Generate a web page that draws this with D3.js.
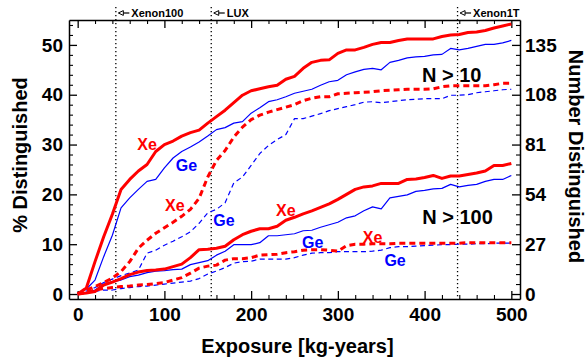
<!DOCTYPE html>
<html>
<head>
<meta charset="utf-8">
<script src="https://cdn.jsdelivr.net/npm/d3@7"></script>
<style>
  html, body { margin: 0; padding: 0; background: #fff; }
  svg { display: block; }
  text { font-family: "Liberation Sans", Arial, Helvetica, sans-serif; font-weight: bold; }
</style>
</head>
<body>
<svg id="chart" width="587" height="360"></svg>
<script>
// ---------------- data ----------------
const exposure = [0,10,20,30,40,50,60,70,80,90,100,110,120,130,140,150,160,170,180,190,200,
  210,220,230,240,250,260,270,280,290,300,310,320,330,340,350,360,370,380,390,400,
  410,420,430,440,450,460,470,480,490,500];

// N > 10, solid
const xeN10 = [0,1.2,6.5,11.5,16, 21,23,24.7,26,28.6, 30,30.7,31.7,32.4,32.9, 34.3,35.6,36.9,38.4,39.9,
  40.8,41.2,41.6,41.9,43.1, 43.7,45.3,46.5,46.9,47, 48.3,49,49,49.5,50.1, 50.5,50.5,50.9,51.2,51.2,
  51.2,51.2,51.7,52,52.1, 52.5,52.6,52.9,53.4,53.8, 54.2];
const geN10 = [0,1,2.8,7.5,11.8, 17.3,19.3,21,22.6,23, 25.3,27.3,28.6,29.5,30.5, 31.7,33,33.4,34.3,34.6,
  36.3,37.4,38.6,39,39.6, 40.3,40.7,41.1,41.9,42.6, 42.9,44,44.6,45.1,45.3, 45,46.5,46.9,47.4,47.6,
  47.7,48,48.1,49.3,49, 49.3,49.7,50.1,50.1,50.4, 50.9];
// N > 10, dashed
const xeN10d = [0,0.8,1.5,2.3,3.2, 4.5,6.5,9.2,10.8,12.2, 13.3,14.4,15.6,17,19.2, 23.5,26.8,28.8,31.5,33.5,
  35,35.9,36.5,37,37.5, 38,38.8,39.3,39.6,39.6, 40.2,40.3,40.4,40.5,40.6, 40.8,40.9,41,41.1,41.1,
  41.1,41.2,41.6,41.8,41.8, 41.8,41.8,41.8,42,42.3, 42.3];
const geN10d = [0,0.6,1.3,2.3,3, 3.7,4.2,4.8,8.2,8.8, 9.8,10.6,11.5,12.5,14.2, 16.3,17,18.3,22.3,23.5,
  25.8,28.2,29.8,31,32, 35.2,35.2,35.7,36.2,36.8, 37.2,37.6,38,38.5,38.6, 38.4,38.6,38.8,39,39.1,
  39.2,39.2,39.2,39.9,39.9, 40,40.4,40.6,40.8,41, 41.1];
// N > 100, solid
const xeN100 = [0,0.2,0.5,1.8,2.4, 3.1,3.9,4.4,4.7,4.8, 5,5.5,6,7.3,8.9, 9,9.2,9.6,10.9,11.9,
  12.6,13.1,13.1,13.6,14.8, 15.4,16.1,16.7,17.4,18.1, 19,20,21,21.5,21.7, 22.2,22.2,22.2,23,23.1,
  23.4,23.8,23.2,23.7,23.7, 24,24.3,24.7,25.8,25.8, 26.2];
const geN100 = [0,0.3,0.8,2,2.5, 2.8,3.5,3.8,4.3,4.6, 4.7,4.9,5,5.9,6.3, 6.7,7.8,8.6,9.9,9.9,
  9.9,10.3,11.7,11.7,11.9, 12.1,12.7,12.8,13.4,13.9, 14.4,15.3,15.7,16.7,17.5, 17.1,19.3,19.6,19.9,20.6,
  20.8,21.1,21.2,22,21.5, 21.8,22,22.6,23,23, 23.8];
// N > 100, dashed
const xeN100d = [0,0.3,0.8,1.1,1.3, 1.5,1.6,1.8,1.9,2.1, 2.3,2.8,3.3,4.2,5.2, 5.6,5.8,6.8,7.1,7.1,
  7.3,7.8,7.9,8,8.3, 8.5,8.8,8.9,8.9,8.8, 8.6,9.7,10,10,10.1, 10.1,10.1,10.2,10.2,10.2,
  10.2,10.2,10.2,10.2,10.2, 10.3,10.3,10.3,10.3,10.3, 10.3];
const geN100d = [0,0.2,0.5,0.8,0.8, 1.1,1.3,1.5,1.6,1.8, 2,2.2,2.4,2.6,3.1, 4,4.6,5.3,6.2,6.5,
  6.6,7,7,7,7, 7.3,7.8,8.2,8.3,8.3, 8.5,8.5,8.5,8.5,8.6, 8.8,9.3,9.5,9.5,9.6,
  9.7,9.8,9.9,9.9,10, 10,10.1,10.1,10.2,10.2, 10.2];

const xTicks = [0,100,200,300,400,500];
const yTicks = [0,10,20,30,40,50];
const yRightTicks = [0,27,54,81,108,135];
const experiments = ["Xenon100","LUX","Xenon1T"];
const experimentExposure = [44,154,438];

// ---------------- layout ----------------
const svg = d3.select("#chart");
const x = d3.scaleLinear().domain([-10,510]).range([69,520]);
const y = d3.scaleLinear().domain([-1,55]).range([299,20]);
const yR = d3.scaleLinear().domain([-2.7,148.5]).range([299,20]);
const RED = "#ff0000", BLUE = "#0000ff";

const minorX = d3.range(0, 501, 20).filter(v => v % 100 !== 0);
const minorY = d3.range(0, 55, 2).filter(v => v % 10 !== 0);
const minorYR = d3.range(0, 149, 5.4).filter((v,i) => i % 5 !== 0);

function styleAxis(g, fs) {
  g.attr("font-family", null).attr("font-size", null);
  g.select(".domain").attr("stroke-width", 1.5);
  g.selectAll(".tick line").attr("stroke-width", 1.3);
  g.selectAll(".tick text").attr("font-size", fs).attr("fill", "#000");
}
function minor(g) {
  g.attr("font-family", null).attr("font-size", null);
  g.select(".domain").remove();
  g.selectAll(".tick line").attr("stroke-width", 1.1);
}

// bottom
svg.append("g").attr("transform", "translate(0,299)")
  .call(d3.axisBottom(x).tickValues(xTicks).tickSizeInner(-8).tickSizeOuter(0).tickPadding(9))
  .call(g => styleAxis(g, 19));
svg.append("g").attr("transform", "translate(0,299)")
  .call(d3.axisBottom(x).tickValues(minorX).tickSize(-4).tickFormat(""))
  .call(minor);
// top
svg.append("g").attr("transform", "translate(0,20)")
  .call(d3.axisTop(x).tickValues(xTicks).tickSizeInner(-8).tickSizeOuter(0).tickFormat(""))
  .call(g => styleAxis(g, 19));
svg.append("g").attr("transform", "translate(0,20)")
  .call(d3.axisTop(x).tickValues(minorX).tickSize(-4).tickFormat(""))
  .call(minor);
// left
svg.append("g").attr("transform", "translate(69,0)")
  .call(d3.axisLeft(y).tickValues(yTicks).tickSizeInner(-8).tickSizeOuter(0).tickPadding(6))
  .call(g => styleAxis(g, 19));
svg.append("g").attr("transform", "translate(69,0)")
  .call(d3.axisLeft(y).tickValues(minorY).tickSize(-4).tickFormat(""))
  .call(minor);
// right
svg.append("g").attr("transform", "translate(520,0)")
  .call(d3.axisRight(yR).tickValues(yRightTicks).tickSizeInner(-8).tickSizeOuter(0).tickPadding(5))
  .call(g => styleAxis(g, 19));
svg.append("g").attr("transform", "translate(520,0)")
  .call(d3.axisRight(yR).tickValues(minorYR).tickSize(-4).tickFormat(""))
  .call(minor);

// experiment markers
experiments.forEach((name, i) => {
  const xp = x(experimentExposure[i]);
  svg.append("line").attr("x1", xp).attr("x2", xp).attr("y1", 7).attr("y2", 299)
    .attr("stroke", "#000").attr("stroke-width", 1.3).attr("stroke-dasharray", "1.3,2.7");
  const a = xp + 2.5;
  svg.append("path").attr("d", `M${a},13 L${a+5},10.6 L${a+5},15.4 Z`)
    .attr("fill", "#fff").attr("stroke", "#000").attr("stroke-width", 1);
  svg.append("path").attr("d", `M${a+5},13 H${a+11}`).attr("stroke", "#000").attr("stroke-width", 1.2);
  svg.append("text").attr("x", a + 13).attr("y", 17).attr("font-size", 11).text(name);
});

// series
const series = [
  { v: geN10d,  c: BLUE, w: 1.2, dash: "5,3.5" },
  { v: geN100d, c: BLUE, w: 1.2, dash: "5,3.5" },
  { v: geN10,   c: BLUE, w: 1.2, dash: null },
  { v: geN100,  c: BLUE, w: 1.2, dash: null },
  { v: xeN10d,  c: RED,  w: 3,   dash: "6,4" },
  { v: xeN100d, c: RED,  w: 3,   dash: "6,4" },
  { v: xeN10,   c: RED,  w: 3,   dash: null },
  { v: xeN100,  c: RED,  w: 3,   dash: null },
];
const line = d3.line().x((d, i) => x(exposure[i])).y(d => y(d));
series.forEach(s => {
  svg.append("path").datum(s.v).attr("d", line)
    .attr("fill", "none").attr("stroke", s.c).attr("stroke-width", s.w)
    .attr("stroke-linejoin", "round")
    .attr("stroke-dasharray", s.dash);
});

// series labels (data coordinates)
const labels = [
  { t: "Xe", c: RED,  ex: 80,  v: 30.0 },
  { t: "Ge", c: BLUE, ex: 125.5, v: 25.7 },
  { t: "Xe", c: RED,  ex: 112, v: 17.8 },
  { t: "Ge", c: BLUE, ex: 168.7, v: 14.7 },
  { t: "Xe", c: RED,  ex: 240, v: 16.7 },
  { t: "Ge", c: BLUE, ex: 271, v: 10.3 },
  { t: "Xe", c: RED,  ex: 340, v: 11.3 },
  { t: "Ge", c: BLUE, ex: 366, v: 6.8 },
];
labels.forEach(l => {
  svg.append("text").attr("x", x(l.ex)).attr("y", y(l.v))
    .attr("text-anchor", "middle").attr("dominant-baseline", "central")
    .attr("font-size", 16).attr("fill", l.c).text(l.t);
});
svg.append("text").attr("x", x(431.3)).attr("y", y(44)).attr("text-anchor", "middle")
  .attr("dominant-baseline", "central").attr("font-size", 20).text("N > 10");
svg.append("text").attr("x", x(438)).attr("y", y(15.4)).attr("text-anchor", "middle")
  .attr("dominant-baseline", "central").attr("font-size", 20).text("N > 100");

// axis titles
svg.append("text").attr("x", 297.5).attr("y", 352.5).attr("text-anchor", "middle")
  .attr("font-size", 20).text("Exposure [kg-years]");
svg.append("text").attr("transform", "translate(27,155) rotate(-90)").attr("text-anchor", "middle")
  .attr("font-size", 20).text("% Distinguished");
svg.append("text").attr("transform", "translate(569,156.5) rotate(90)").attr("text-anchor", "middle")
  .attr("font-size", 20).text("Number Distinguished");
</script>
</body>
</html>
